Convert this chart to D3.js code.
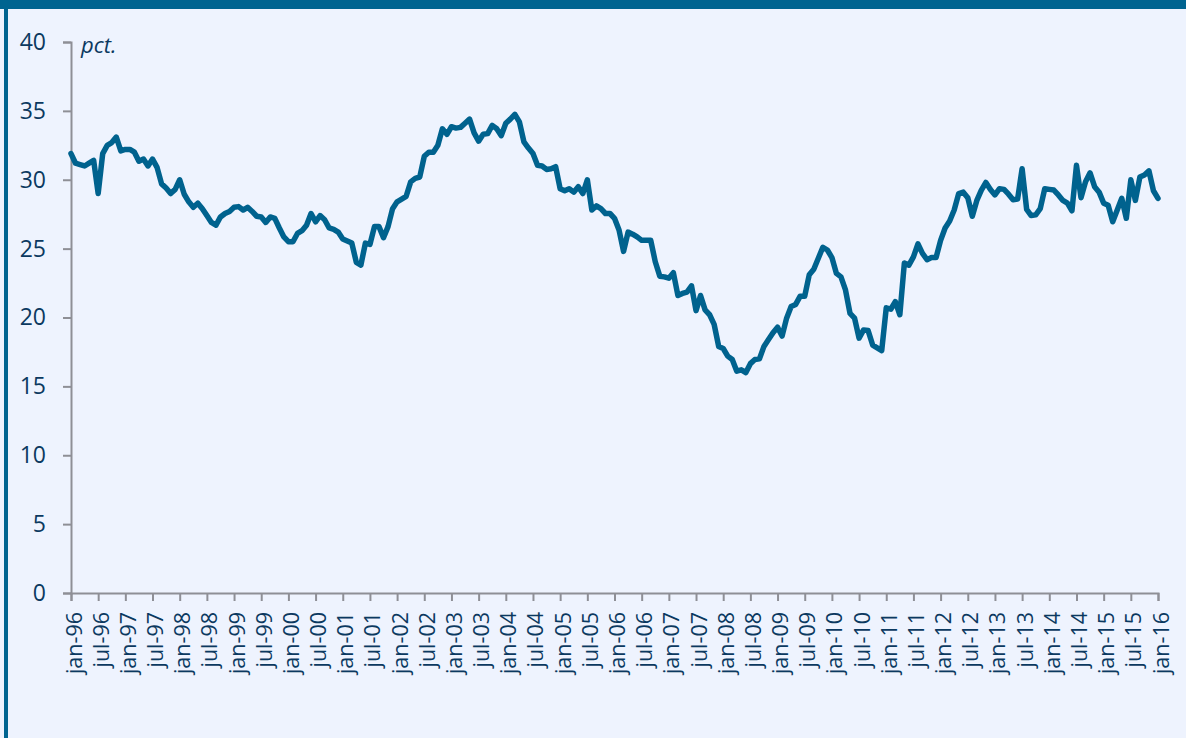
<!DOCTYPE html>
<html>
<head>
<meta charset="utf-8">
<script src="https://cdn.jsdelivr.net/npm/d3@7"></script>
<style>
  body { margin: 0; background: #eef3fe; }
  svg { display: block; }
</style>
</head>
<body>
<div id="mainDiv"></div>
<script>
'use strict';

// monthly values, jan-96 .. jan-16 (one row per year)
var startYear = 1996;
var pct = [
    31.9, 31.2, 31.1, 31.0, 31.2, 31.4, 29.0, 31.9, 32.5, 32.7, 33.1, 32.1,
    32.2, 32.2, 32.0, 31.35, 31.5, 31.0, 31.5, 30.9, 29.7, 29.4, 29.0, 29.3,
    30.0, 28.95, 28.4, 28.0, 28.3, 27.9, 27.4, 26.9, 26.7, 27.3, 27.55, 27.7,
    28.0, 28.05, 27.8, 28.0, 27.7, 27.35, 27.3, 26.9, 27.3, 27.2, 26.5, 25.85,
    25.5, 25.5, 26.1, 26.3, 26.7, 27.55, 26.95, 27.4, 27.1, 26.5, 26.4, 26.2,
    25.7, 25.55, 25.4, 24.0, 23.8, 25.4, 25.3, 26.6, 26.6, 25.8, 26.6, 27.9,
    28.4, 28.6, 28.8, 29.85, 30.1, 30.2, 31.7, 32.0, 32.0, 32.5, 33.7, 33.3,
    33.85, 33.75, 33.8, 34.1, 34.4, 33.4, 32.8, 33.3, 33.35, 33.95, 33.7, 33.2,
    34.1, 34.4, 34.75, 34.2, 32.75, 32.3, 31.9, 31.05, 31.0, 30.75, 30.8, 30.95,
    29.35, 29.2, 29.35, 29.1, 29.5, 29.0, 30.0, 27.8, 28.1, 27.9, 27.55, 27.55,
    27.2, 26.35, 24.8, 26.2, 26.05, 25.85, 25.6, 25.6, 25.6, 24.05, 23.0, 22.95,
    22.85, 23.25, 21.6, 21.75, 21.85, 22.3, 20.5, 21.6, 20.55, 20.2, 19.5, 17.9,
    17.75, 17.2, 16.95, 16.1, 16.2, 16.0, 16.65, 16.95, 17.0, 17.9, 18.4, 18.9,
    19.3, 18.65, 19.95, 20.8, 20.95, 21.55, 21.55, 23.1, 23.5, 24.3, 25.1, 24.9,
    24.35, 23.2, 22.95, 22.0, 20.3, 19.95, 18.5, 19.1, 19.05, 18.0, 17.8, 17.6,
    20.7, 20.6, 21.15, 20.2, 23.95, 23.8, 24.4, 25.35, 24.65, 24.2, 24.35, 24.35,
    25.6, 26.5, 27.0, 27.8, 29.0, 29.1, 28.7, 27.35, 28.5, 29.25, 29.8, 29.3,
    28.9, 29.35, 29.3, 28.95, 28.55, 28.6, 30.8, 27.85, 27.4, 27.45, 27.9, 29.35,
    29.3, 29.25, 28.9, 28.5, 28.3, 27.75, 31.05, 28.7, 29.85, 30.5, 29.5, 29.1,
    28.3, 28.15, 26.95, 27.8, 28.65, 27.2, 30.0, 28.5, 30.2, 30.35, 30.65, 29.2,
    28.65
];

var monthNames = ['jan', 'feb', 'mar', 'apr', 'maj', 'jun', 'jul', 'aug', 'sep', 'okt', 'nov', 'dec'];
var yTicks = [0, 5, 10, 15, 20, 25, 30, 35, 40];
var unitLabel = 'pct.';

var myApp = {};

myApp.w = 1186;
myApp.h = 738;
myApp.x0 = 71;
myApp.x1 = 1158;
myApp.y0 = 593;
myApp.y1 = 42;

myApp.textColor = '#0b3960';
myApp.axisColor = '#8e8f96';
myApp.lineColor = '#00628e';

myApp.label = function(i) {
    var m = i % 12;
    var y = (startYear + Math.floor(i / 12)) % 100;
    return monthNames[m] + '-' + (y < 10 ? '0' + y : y);
};

myApp.appendSvg = function(element) {
    var svg = d3.select(element).append('svg')
        .attr('width', myApp.w)
        .attr('height', myApp.h);

    svg.append('rect')
        .attr('width', myApp.w).attr('height', myApp.h)
        .attr('fill', '#eef3fe');
    svg.append('rect')
        .attr('width', myApp.w).attr('height', 9)
        .attr('fill', '#006490');
    svg.append('rect')
        .attr('x', 4).attr('width', 4).attr('height', myApp.h)
        .attr('fill', '#006490');
    return svg;
};

myApp.createAxis = function(svg) {
    myApp.xScale = d3.scaleLinear().domain([0, pct.length - 1]).range([myApp.x0, myApp.x1]);
    myApp.yScale = d3.scaleLinear().domain([0, 40]).range([myApp.y0, myApp.y1]);

    var xTicks = d3.range(0, pct.length, 6);

    var yAxis = d3.axisLeft(myApp.yScale).tickValues(yTicks).tickSize(8).tickPadding(17);
    var xAxis = d3.axisBottom(myApp.xScale).tickValues(xTicks).tickSize(8).tickFormat(myApp.label);

    var yg = svg.append('g')
        .attr('transform', 'translate(' + myApp.x0 + ',0)')
        .call(yAxis);
    var xg = svg.append('g')
        .attr('transform', 'translate(0,' + myApp.y0 + ')')
        .call(xAxis);

    [yg, xg].forEach(function(g) {
        g.select('.domain').attr('stroke', myApp.axisColor).attr('stroke-width', 2);
        g.selectAll('.tick line').attr('stroke', myApp.axisColor).attr('stroke-width', 2);
        g.selectAll('text')
            .attr('fill', myApp.textColor)
            .attr('font-family', '"Open Sans", sans-serif');
    });

    yg.selectAll('text').attr('font-size', '23px');

    xg.selectAll('.tick text')
        .attr('font-size', '21.5px')
        .attr('text-anchor', 'end')
        .attr('transform', 'translate(0,19) rotate(-90)')
        .attr('x', 0)
        .attr('y', 0)
        .attr('dy', '10px');

    svg.append('text')
        .attr('x', 81)
        .attr('y', 53)
        .attr('fill', myApp.textColor)
        .attr('font-family', '"Open Sans", sans-serif')
        .attr('font-style', 'italic')
        .attr('font-size', '22px')
        .text(unitLabel);
};

myApp.appendLine = function(svg) {
    var line = d3.line()
        .x(function(d, i) { return myApp.xScale(i); })
        .y(function(d) { return myApp.yScale(d); });

    svg.append('path')
        .datum(pct)
        .attr('d', line)
        .attr('fill', 'none')
        .attr('stroke', myApp.lineColor)
        .attr('stroke-width', 5.5)
        .attr('stroke-linejoin', 'round')
        .attr('stroke-linecap', 'round');
};

myApp.run = function() {
    var svg = myApp.appendSvg('#mainDiv');
    myApp.createAxis(svg);
    myApp.appendLine(svg);
};

window.onload = myApp.run;
</script>
</body>
</html>
